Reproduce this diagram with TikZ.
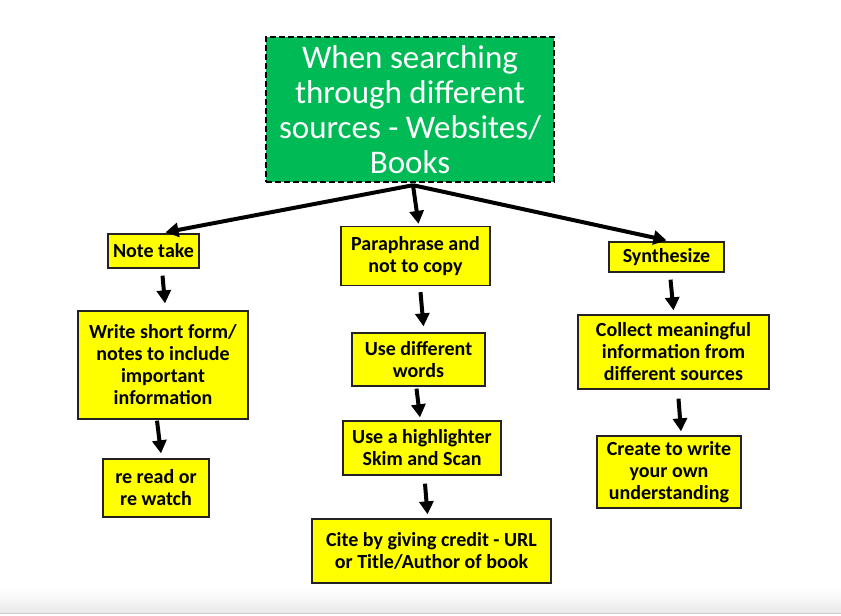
\documentclass[tikz,border=0pt]{standalone}
\usepackage{fontspec}
\setmainfont{Carlito}
\usetikzlibrary{arrows.meta}
\definecolor{topGreen}{HTML}{00BB55}
\definecolor{noteYellow}{HTML}{FFFF00}
\definecolor{boxEdge}{HTML}{222222}

\begin{document}
\begin{tikzpicture}[x=1pt,y=-1pt,
  stepbox/.style={draw=boxEdge,line width=1.3pt,fill=noteYellow,align=center,inner sep=0pt,
    font=\fontsize{20}{22}\selectfont\bfseries},
  headbox/.style={draw=black,line width=2.4pt,dash pattern=on 6pt off 3pt,fill=topGreen,align=center,
    inner sep=0pt,text=white,font=\fontsize{33}{35}\selectfont},
  arr/.style={line width=4pt,-{Triangle[length=13pt,width=14pt]}}]
  \useasboundingbox (0,0) rectangle (841,616);
  \shade[top color=white,bottom color=black!8] (0,588) rectangle (841,613);
  \draw[black!20,line width=1pt] (0,613.5) -- (841,613.5);

  \node[headbox,minimum width=288pt,minimum height=145pt] (h) at (410,109.5) {When searching\\through different\\sources - Websites/\\Books};
  \node[stepbox,minimum width=91pt,minimum height=34pt] (n) at (153.5,251) {Note take};
  \node[stepbox,minimum width=149pt,minimum height=59pt] (p) at (415.5,256) {Paraphrase and\\not to copy};
  \node[stepbox,minimum width=115pt,minimum height=30pt] (s) at (666.5,257) {Synthesize};
  \node[stepbox,minimum width=170pt,minimum height=108pt] (w) at (163,365) {Write short form/\\notes to include\\important\\information};
  \node[stepbox,minimum width=106pt,minimum height=58pt] (r) at (156,488) {re read or\\re watch};
  \node[stepbox,minimum width=133pt,minimum height=53pt] (u) at (418.5,359.5) {Use different\\words};
  \node[stepbox,minimum width=158pt,minimum height=54pt] (l) at (422,448) {Use a highlighter\\Skim and Scan};
  \node[stepbox,minimum width=239pt,minimum height=64pt] (c) at (431.5,551) {Cite by giving credit - URL\\or Title/Author of book};
  \node[stepbox,minimum width=191pt,minimum height=74pt] (m) at (673.5,352) {Collect meaningful\\information from\\different sources};
  \node[stepbox,minimum width=144pt,minimum height=72pt] (k) at (669,472) {Create to write\\your own\\understanding};

  \draw[arr] ([xshift=3pt,yshift=-2pt]h.south) -- ([xshift=12pt,yshift=1pt]n.north);
  \draw[arr] ([xshift=3pt,yshift=-2pt]h.south) -- ([xshift=3pt,yshift=2pt]p.north);
  \draw[arr] ([xshift=3pt,yshift=-2pt]h.south) -- ([yshift=1pt]s.north);
  \draw[arr] ([xshift=9pt,yshift=-7pt]n.south) -- ([xshift=2pt,yshift=7pt]w.north);
  \draw[arr] ([xshift=-6pt,yshift=-1pt]w.south) -- ([xshift=5pt,yshift=5pt]r.north);
  \draw[arr] ([xshift=5pt,yshift=-6pt]p.south) -- ([xshift=5pt,yshift=6pt]u.north);
  \draw[arr] ([xshift=-2pt,yshift=-2pt]u.south) -- ([xshift=-2pt,yshift=3pt]l.north);
  \draw[arr] ([xshift=3pt,yshift=-8pt]l.south) -- ([xshift=-4pt,yshift=4pt]c.north);
  \draw[arr] ([xshift=4pt,yshift=-7pt]s.south) -- ([xshift=0pt,yshift=4pt]m.north);
  \draw[arr] ([xshift=5pt,yshift=-9pt]m.south) -- ([xshift=12pt,yshift=4pt]k.north);
\end{tikzpicture}
\end{document}
